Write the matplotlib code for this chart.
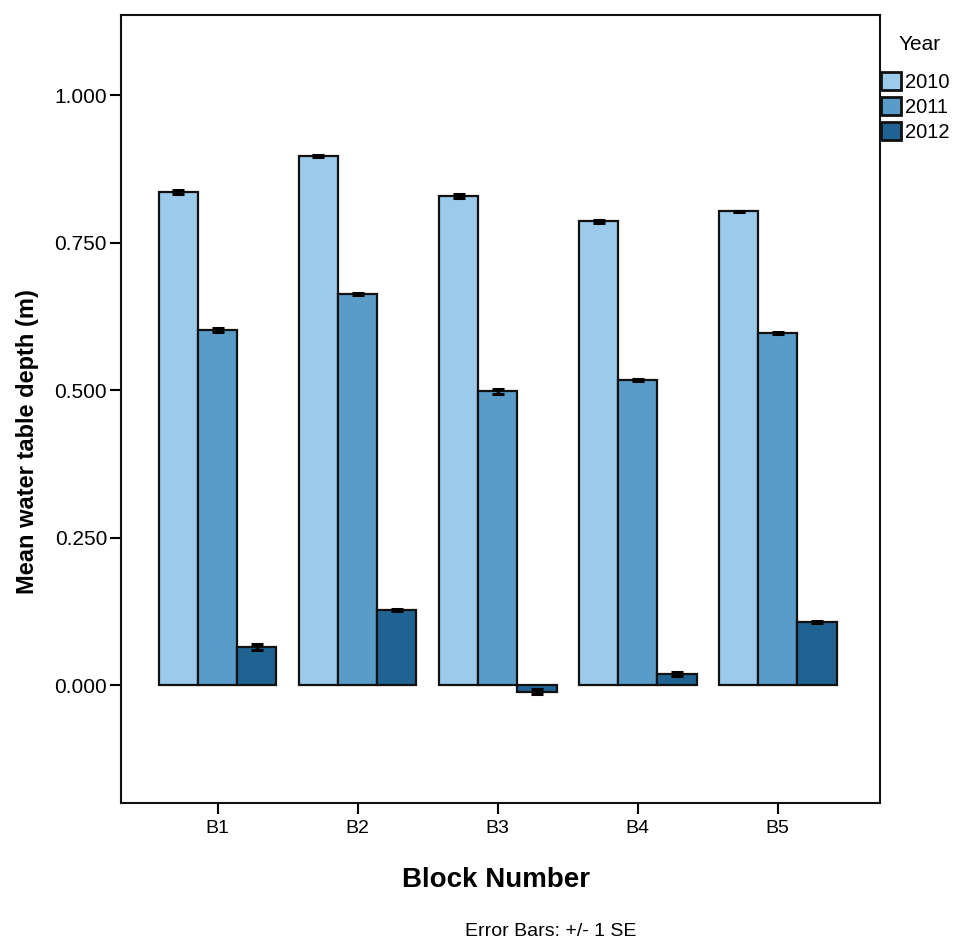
import matplotlib
matplotlib.use("Agg")
import matplotlib.pyplot as plt
import numpy as np

plt.rcParams['font.family'] = ['Liberation Sans', 'DejaVu Sans']

blocks = ["B1", "B2", "B3", "B4", "B5"]
years = ["2010", "2011", "2012"]
mean_2010 = [0.836, 0.897, 0.829, 0.786, 0.803]
mean_2011 = [0.602, 0.663, 0.498, 0.517, 0.597]
mean_2012 = [0.064, 0.127, -0.011, 0.019, 0.107]
se_2010 = [0.004, 0.002, 0.004, 0.002, 0.001]
se_2011 = [0.004, 0.001, 0.004, 0.002, 0.001]
se_2012 = [0.005, 0.002, 0.005, 0.003, 0.001]
colors = ["#9ccaeb", "#5a9cc8", "#1f6393"]
yticks = [0.0, 0.25, 0.5, 0.75, 1.0]

fig = plt.figure(figsize=(9.55, 9.43), dpi=100)
ax = fig.add_axes([0.1267, 0.1485, 0.7948, 0.8355])

x = np.arange(len(blocks))
w = 0.28
means = [mean_2010, mean_2011, mean_2012]
ses = [se_2010, se_2011, se_2012]
handles = []
for i, (m, s, c, yr) in enumerate(zip(means, ses, colors, years)):
    xi = x + (i - 1) * w
    b = ax.bar(xi, m, width=w, color=c, edgecolor="#111111", linewidth=1.6, label=yr, zorder=2)
    handles.append(b)
    ax.errorbar(xi, m, yerr=s, fmt="none", ecolor="black", elinewidth=2.5, capsize=4.5, capthick=2.2, zorder=3)

ax.set_xlim(-0.69, 4.73)
ax.set_ylim(-0.2, 1.136)
ax.set_xticks(x)
ax.set_xticklabels(blocks, fontsize=14)
ax.set_yticks(yticks)
ax.set_yticklabels([f"{v:.3f}" for v in yticks], fontsize=15)
ax.tick_params(axis="both", direction="out", length=8, width=1.5, color="black")
ax.tick_params(axis="x", pad=4)
ax.tick_params(axis="y", pad=2)
for sp in ax.spines.values():
    sp.set_linewidth(1.5)
    sp.set_color("#111111")

ax.set_ylabel("Mean water table depth (m)", fontsize=17, fontweight="bold", labelpad=10)
ax.yaxis.set_label_coords(-0.108, 0.459)
ax.set_xlabel("Block Number", fontsize=20, fontweight="bold", labelpad=20)
ax.xaxis.set_label_coords(0.494, -0.081)

fig.text(0.577, 0.003, "Error Bars: +/- 1 SE", fontsize=14, ha="center", va="bottom")

fig.text(0.9625, 1 - 45 / 943, "Year", fontsize=15, ha="center", va="center")
leg = fig.legend(handles=handles, labels=years, loc="upper left",
                 bbox_to_anchor=(0.922, 1 - 72 / 943), frameon=False, fontsize=14.5,
                 handlelength=1.0, handleheight=1.0,
                 handletextpad=0.2, labelspacing=0.25, borderaxespad=0, borderpad=0)
for p in leg.get_patches():
    p.set_linewidth(2.0)

fig.savefig("out.png", dpi=100)
